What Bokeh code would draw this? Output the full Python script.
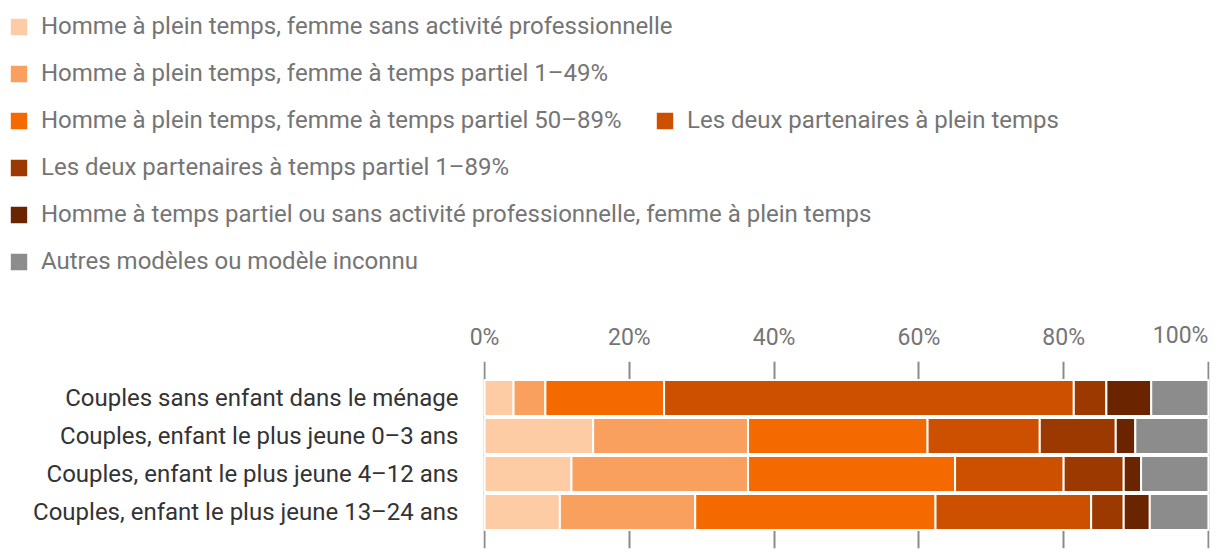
from bokeh.plotting import figure
from bokeh.models import (FactorRange, Range1d, LinearAxis, FixedTicker, Legend, LegendItem,
                          Label, ColumnDataSource)
from bokeh.layouts import column, row
from bokeh.embed import file_html
from bokeh.resources import INLINE

categories = [
    "Couples sans enfant dans le ménage",
    "Couples, enfant le plus jeune 0–3 ans",
    "Couples, enfant le plus jeune 4–12 ans",
    "Couples, enfant le plus jeune 13–24 ans",
]
series_names = [
    "Homme à plein temps, femme sans activité professionnelle",
    "Homme à plein temps, femme à temps partiel 1–49%",
    "Homme à plein temps, femme à temps partiel 50–89%",
    "Les deux partenaires à plein temps",
    "Les deux partenaires à temps partiel 1–89%",
    "Homme à temps partiel ou sans activité professionnelle, femme à plein temps",
    "Autres modèles ou modèle inconnu",
]
s1 = [4.0, 15.0, 12.0, 10.4]
s2 = [4.4, 21.4, 24.4, 18.7]
s3 = [16.4, 24.8, 28.6, 33.2]
s4 = [56.6, 15.5, 15.0, 21.5]
s5 = [4.5, 10.5, 8.3, 4.5]
s6 = [6.2, 2.7, 2.4, 3.6]
s7 = [7.9, 10.1, 9.3, 8.1]
colors = ["#fdcba4", "#f9a05e", "#f46a00", "#cd5000", "#9b3900", "#6a2500", "#8c8c8c"]
tick_values = [0, 20, 40, 60, 80, 100]
tick_labels = ["0%", "20%", "40%", "60%", "80%", "100%"]

keys = ["s1", "s2", "s3", "s4", "s5", "s6", "s7"]
series = [s1, s2, s3, s4, s5, s6, s7]
source = ColumnDataSource(dict(cat=categories, **{k: v for k, v in zip(keys, series)}))

FONT = "Roboto"
W = 1212

# ---------------- legend panel (its bars lie outside its visible x range) ----------------
lf = figure(width=W, height=290, output_backend="svg", toolbar_location=None,
            x_range=Range1d(-300, -200), y_range=FactorRange(factors=list(reversed(categories))),
            x_axis_location=None, y_axis_location=None)
lf.min_border = 0
lf.outline_line_color = None
lf.grid.visible = False
lrend = lf.hbar_stack(keys, y="cat", height=0.95, color=colors, source=source,
                      line_color="white", line_width=2)

def make_legend(idx, loc):
    items = [LegendItem(label=series_names[i], renderers=[lrend[i]]) for i in idx]
    lg = Legend(items=items, location=loc, orientation="vertical",
                glyph_width=23, glyph_height=23, label_height=28, spacing=19,
                label_standoff=11, padding=0, margin=0,
                label_text_font=FONT, label_text_font_size="24px",
                label_text_color="#757575", border_line_color=None,
                background_fill_alpha=0)
    lf.add_layout(lg, "center")
    return lg

make_legend([0, 1, 2, 4, 5, 6], (7, 15))
make_legend([3], (653, 156))

# ---------------- chart ----------------
p = figure(width=W, height=262, output_backend="svg", toolbar_location=None,
           y_range=FactorRange(factors=list(reversed(categories)), range_padding=0.46,
                               range_padding_units="absolute"),
           x_range=Range1d(-0.15, 100.15), x_axis_location=None)
p.min_border_left = 483
p.min_border_right = 3
p.min_border_top = 71
p.min_border_bottom = 4
p.outline_line_color = None

p.hbar_stack(keys, y="cat", height=0.95, color=colors, source=source,
             line_color="white", line_width=2)

p.ygrid.grid_line_color = None
p.xgrid.ticker = FixedTicker(ticks=tick_values)
p.xgrid.grid_line_color = "#8a8a8a"
p.xgrid.grid_line_width = 2

xa = LinearAxis(ticker=FixedTicker(ticks=tick_values),
                major_label_overrides={v: (l if v != 100 else "") for v, l in zip(tick_values, tick_labels)})
xa.axis_line_color = None
xa.major_tick_line_color = None
xa.minor_tick_line_color = None
xa.major_tick_out = 0
xa.major_tick_in = 0
xa.major_label_text_font = FONT
xa.major_label_text_font_size = "23px"
xa.major_label_text_color = "#757575"
xa.major_label_standoff = 11
p.add_layout(xa, "above")

# last tick label is right-aligned on its tick so that it stays inside the page
p.add_layout(Label(x=tick_values[-1], x_units="data", y=-15, y_units="screen",
                   text=tick_labels[-1], text_align="right", text_baseline="alphabetic",
                   text_font=FONT, text_font_size="23px", text_color="#757575"), "above")

ya = p.yaxis[0]
ya.axis_line_color = None
ya.major_tick_line_color = None
ya.minor_tick_line_color = None
ya.major_tick_out = 0
ya.major_tick_in = 0
ya.major_label_text_font = FONT
ya.major_label_text_font_size = "24px"
ya.major_label_text_color = "#333333"
ya.major_label_standoff = 25

layout = column(row(lf), row(p), spacing=0)
open("out.html", "w").write(file_html(layout, INLINE))
